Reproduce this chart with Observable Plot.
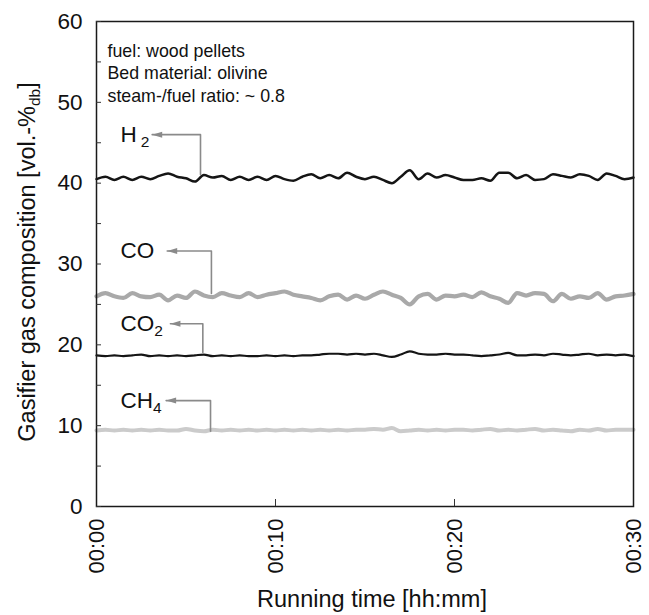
<!DOCTYPE html>
<html><head><meta charset="utf-8">
<script src="https://cdn.jsdelivr.net/npm/d3@7"></script>
<script src="https://cdn.jsdelivr.net/npm/@observablehq/plot@0.6"></script>
<style>body{margin:0;background:#fff}</style>
</head><body><div id="chart"></div>
<script>
// Running time in minutes
const minutes = [0,0.5,1,1.5,2,2.5,3,3.5,4,4.5,5,5.5,6,6.5,7,7.5,8,8.5,9,9.5,10,
  10.5,11,11.5,12,12.5,13,13.5,14,14.5,15,15.5,16,16.5,17,17.5,18,18.5,19,19.5,20,
  20.5,21,21.5,22,22.5,23,23.5,24,24.5,25,25.5,26,26.5,27,27.5,28,28.5,29,29.5,30];
const h2 = [40.5,40.8,40.4,40.8,40.4,40.8,40.5,40.9,41.2,40.8,40.6,40.2,41.0,40.7,40.9,40.4,40.8,40.4,40.8,40.4,40.9,
  40.5,40.3,40.8,41.1,40.6,41.0,40.6,41.3,40.8,40.5,40.8,40.4,40.0,40.8,41.6,40.5,41.2,40.7,41.0,40.7,
  40.4,40.4,40.6,40.3,41.3,41.3,40.6,41.0,40.4,40.5,41.1,40.9,40.7,41.1,40.9,40.4,41.2,40.9,40.5,40.7];
const co = [26.0,26.4,26.0,25.8,26.4,26.0,25.9,26.2,25.5,26.1,25.8,26.6,26.1,25.9,26.4,26.1,25.9,26.4,25.9,26.2,26.4,
  26.6,26.2,26.0,25.8,25.5,26.0,26.2,25.6,26.1,25.7,26.2,26.6,26.2,25.8,25.0,26.0,26.3,25.6,26.1,26.0,
  26.2,25.9,26.5,26.0,25.7,25.2,26.4,26.1,26.4,26.3,25.4,26.3,25.7,26.0,25.8,26.4,25.6,26.0,26.1,26.3];
const co2 = [18.7,18.6,18.7,18.6,18.7,18.8,18.6,18.7,18.6,18.7,18.6,18.7,18.8,18.6,18.7,18.6,18.7,18.6,18.6,18.7,18.6,
  18.7,18.6,18.7,18.7,18.8,18.9,18.9,18.8,18.9,18.8,18.9,18.7,18.5,18.8,19.2,18.9,18.8,18.8,18.9,18.8,
  18.8,18.7,18.6,18.7,18.8,19.0,18.7,18.7,18.8,18.7,18.9,18.8,18.7,18.8,18.9,18.7,18.8,18.7,18.8,18.6];
const ch4 = [9.4,9.5,9.4,9.5,9.4,9.5,9.4,9.5,9.4,9.4,9.6,9.4,9.3,9.5,9.4,9.5,9.4,9.5,9.4,9.5,9.4,
  9.5,9.4,9.5,9.4,9.5,9.4,9.5,9.4,9.5,9.5,9.6,9.5,9.7,9.3,9.4,9.5,9.4,9.5,9.4,9.5,
  9.5,9.4,9.5,9.6,9.4,9.5,9.4,9.5,9.6,9.4,9.5,9.4,9.3,9.5,9.4,9.6,9.4,9.5,9.5,9.5];

const seriesNames = ["H2", "CO", "CO2", "CH4"];
const yTicks = [0, 10, 20, 30, 40, 50, 60];
const yMinorTicks = [0, 5, 10, 15, 20, 25, 30, 35, 40, 45, 50, 55, 60];
const xTicks = [0, 10, 20, 30];
const xInnerTicks = [10, 20];
const xTickLabels = ["00:00", "00:10", "00:20", "00:30"];
const infoLines = ["fuel: wood pellets", "Bed material: olivine", "steam-/fuel ratio: ~ 0.8"];
const xLabel = "Running time [hh:mm]";
const yLabel = "Gasifier gas composition [vol.-%db]";

// label annotations (data coordinates)
const labelX = [1.34, 1.34, 1.34, 1.34];
const labelY = [46.0, 31.6, 22.6, 13.1];
const arrowHeadX = [3.11, 3.95, 4.13, 3.89];
const arrowCornerX = [5.81, 6.42, 5.94, 6.37];
const arrowEndY = [41.07, 26.35, 19.05, 9.32];

const toRows = (vals) => minutes.map((t, i) => ({t, v: vals[i]}));
const idx = seriesNames.map((d, i) => i);
const arrowRows = idx.flatMap(i => [
  {z: i, x: arrowHeadX[i], y: labelY[i]},
  {z: i, x: arrowCornerX[i], y: labelY[i]},
  {z: i, x: arrowCornerX[i], y: arrowEndY[i]}
]);
const arrowHead = {draw(ctx) { ctx.moveTo(0, 0); ctx.lineTo(10, -3); ctx.lineTo(10, 3); ctx.closePath(); }};
const font = "'Liberation Sans', Arial, Helvetica, sans-serif";

const plot = Plot.plot({
  width: 649, height: 615,
  marginLeft: 96, marginRight: 16, marginTop: 21, marginBottom: 109,
  style: {fontFamily: font, fontSize: "22px", background: "#fff", color: "#111"},
  x: {domain: [0, 30], label: null},
  y: {domain: [0, 60], label: null},
  marks: [
    Plot.line(toRows(ch4), {x: "t", y: "v", stroke: "#cbcbcb", strokeWidth: 4, curve: "monotone-x"}),
    Plot.line(toRows(co), {x: "t", y: "v", stroke: "#a9a9a9", strokeWidth: 4.2, curve: "monotone-x"}),
    Plot.line(toRows(co2), {x: "t", y: "v", stroke: "#151515", strokeWidth: 2.2, curve: "monotone-x"}),
    Plot.line(toRows(h2), {x: "t", y: "v", stroke: "#151515", strokeWidth: 2.5, curve: "monotone-x"}),
    Plot.line(arrowRows, {x: "x", y: "y", z: "z", stroke: "#8a8a8a", strokeWidth: 1.6}),
    Plot.dot(idx, {x: i => arrowHeadX[i], y: i => labelY[i], symbol: arrowHead, fill: "#8a8a8a", stroke: "none"}),
    Plot.text(idx, {x: i => labelX[i], y: i => labelY[i], text: i => seriesNames[i], textAnchor: "start", fontSize: 22.5, fill: "#111"}),
    Plot.text([infoLines.join("\n")], {frameAnchor: "top-left", dx: 11, dy: 19, lineAnchor: "top", lineHeight: 1.28, fontSize: 17.8, textAnchor: "start", fill: "#111"}),
    Plot.frame({stroke: "#1a1a1a", strokeWidth: 1.5}),
    Plot.axisY(yTicks, {tickSize: 0, tickPadding: 14, fontSize: 22.5, label: null}),
    Plot.axisY(yMinorTicks, {tickSize: -5, tickFormat: () => "", label: null, stroke: "#333"}),
    Plot.axisX(xTicks, {tickSize: 0, tickRotate: -90, tickPadding: 12, fontSize: 22, label: null,
      tickFormat: d => xTickLabels[xTicks.indexOf(d)]}),
    Plot.axisX(xInnerTicks, {tickSize: -7, tickFormat: () => "", label: null, stroke: "#333"}),
    Plot.text([xLabel], {frameAnchor: "bottom", dx: 7, dy: 100, lineAnchor: "bottom", textAnchor: "middle", fontSize: 23.5, fill: "#111"}),
    Plot.text([yLabel], {frameAnchor: "left", dx: -69, dy: -2, rotate: -90, textAnchor: "middle", lineAnchor: "middle", fontSize: 23.5, fill: "#111"})
  ]
});

// subscripts
const subs = {
  "H2": ["H", "2", 4], "CO2": ["CO", "2", 0], "CH4": ["CH", "4", 0],
  [yLabel]: ["Gasifier gas composition [vol.-%", "db", 0, "]"]
};
d3.select(plot).selectAll("text").each(function() {
  if (this.childElementCount) return;
  const s = subs[this.textContent];
  if (!s) return;
  const el = d3.select(this);
  el.text(null);
  el.append("tspan").text(s[0]);
  el.append("tspan").attr("dx", s[2]).attr("dy", 5).attr("font-size", 15.5).text(s[1]);
  if (s[3]) el.append("tspan").attr("dy", -5).text(s[3]);
});
document.getElementById("chart").appendChild(plot);
</script>
</body></html>
